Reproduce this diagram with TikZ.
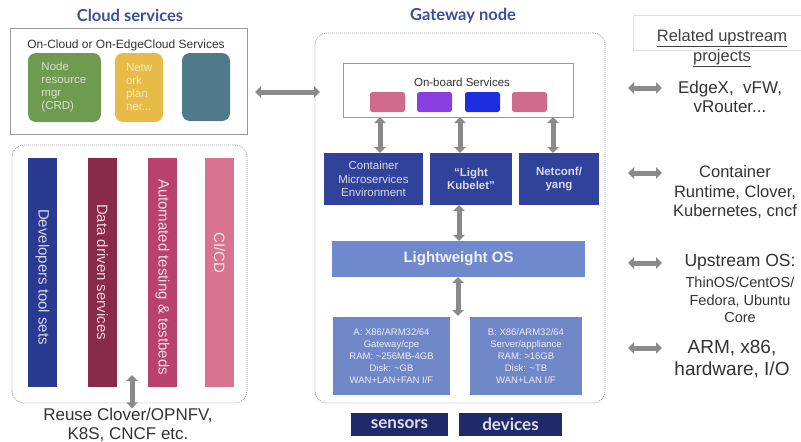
\documentclass[tikz,border=0pt]{standalone}
\usepackage{fontspec}
\setmainfont{Liberation Sans}
\newfontfamily\titlefont{Lato}
\usetikzlibrary{arrows.meta}
\definecolor{titleblue}{HTML}{3C4F9C}
\definecolor{arrgray}{HTML}{8A8A8A}
\definecolor{boxgray}{HTML}{9A9A9A}
\definecolor{dotgray}{HTML}{AAAAAA}
\definecolor{cgreen}{HTML}{6F9B50}
\definecolor{cyellow}{HTML}{E6BB48}
\definecolor{cteal}{HTML}{4F7A8C}
\definecolor{spink}{HTML}{D06A8C}
\definecolor{spurple}{HTML}{8A3EE0}
\definecolor{sblue}{HTML}{1D2EE0}
\definecolor{darkbox}{HTML}{30429A}
\definecolor{losblue}{HTML}{7088CC}
\definecolor{hwblue}{HTML}{7088C8}
\definecolor{navy}{HTML}{1E2A6A}
\definecolor{barblue}{HTML}{2A3A90}
\definecolor{barmaroon}{HTML}{8A2A4A}
\definecolor{barcrimson}{HTML}{B8426C}
\definecolor{barpink}{HTML}{D8748F}
\definecolor{txtgray}{HTML}{333333}
\begin{document}
\begin{tikzpicture}[x=1pt,y=-1pt,
  every node/.style={inner sep=0pt, outer sep=0pt},
  title/.style={font=\titlefont\bfseries\fontsize{16.5}{18}\selectfont, text=titleblue},
  plainbox/.style={draw=boxgray, line width=0.8pt, fill=white},
  dotbox/.style={draw=dotgray, line width=0.9pt, dash pattern=on 1pt off 1pt, rounded corners=12pt},
  svc/.style={rounded corners=8pt, align=left, text=white!80!black, font=\fontsize{11.5}{13}\selectfont},
  minibox/.style={rounded corners=2.5pt, minimum width=35pt, minimum height=20pt},
  darkb/.style={fill=darkbox, minimum height=52pt, align=center, text=white!80!darkbox, font=\fontsize{11.5}{13.5}\selectfont},
  hwbox/.style={fill=hwblue, minimum height=78pt, align=center, text=white!85!hwblue, font=\fontsize{9.5}{12}\selectfont},
  navybox/.style={fill=navy, minimum height=23pt, text=white!85!navy, font=\titlefont\bfseries\fontsize{17}{18}\selectfont},
  bar/.style={minimum width=29pt, minimum height=229pt},
  barlabel/.style={rotate=-90, font=\fontsize{15}{16}\selectfont},
  garrow/.style={draw=arrgray, line width=5pt, {Triangle[width=11.5pt,length=6pt]}-{Triangle[width=11.5pt,length=6pt]}},
  righttxt/.style={align=center, text=txtgray, font=\fontsize{17}{19}\selectfont}
]
\useasboundingbox (0,0) rectangle (801,442);
\fill[white] (0,0) rectangle (801,442);

% ---------- Cloud services ----------
\node[title] (cloudtitle) at (130,15) {Cloud services};
\node[plainbox, minimum width=237pt, minimum height=106pt] (cloud) at (128.5,81) {};
\node[text=txtgray, font=\fontsize{12}{14}\selectfont] (cloudlbl) at (126,45) {On-Cloud or On-EdgeCloud Services};
\node[svc, fill=cgreen, minimum width=73pt, minimum height=69pt, text width=46pt, text=white!70!cgreen] (nrm) at (64.5,87.5) {Node\\resource\\mgr\\(CRD)};
\node[svc, fill=cyellow, minimum width=48pt, minimum height=69pt, text width=26pt, text=white!65!cyellow] (np) at (139,87.5) {Netw\\ork\\plan\\ner...};
\node[svc, fill=cteal, minimum width=48pt, minimum height=68pt] (teal) at (206,87) {};

% ---------- Left dev panel ----------
\node[dotbox, minimum width=235pt, minimum height=258pt] (devpanel) at (129.5,274) {};
\node[bar, fill=barblue] (bar1) at (42.5,272.5) {};
\node[bar, fill=barmaroon] (bar2) at (102.5,272.5) {};
\node[bar, fill=barcrimson] (bar3) at (162.5,272.5) {};
\node[bar, fill=barpink] (bar4) at (219.5,272.5) {};
\node[barlabel, text=white!80!barblue] (l1) at (42.5,277) {Developers tool sets};
\node[barlabel, text=white!80!barmaroon] (l2) at (102.5,272) {Data driven services};
\node[barlabel, text=white!80!barcrimson] (l3) at (162.5,277) {Automated testing \& testbeds};
\node[barlabel, text=white!85!barpink] (l4) at (219.5,253) {CI/CD};
\node[righttxt, text=txtgray] (reuse) at (128,425) {Reuse Clover/OPNFV,\\K8S, CNCF etc.};
\coordinate (reusetop) at (132,375);
\draw[garrow] (reusetop) -- (reuse.north -| reusetop);

% ---------- Gateway node ----------
\node[title] (gwtitle) at (463,16) {Gateway node};
\node[dotbox, minimum width=290pt, minimum height=370pt] (gw) at (460,218) {};
\node[plainbox, minimum width=230pt, minimum height=54pt] (onb) at (458,90) {};
\node[text=txtgray, font=\fontsize{11.5}{13}\selectfont] (onblbl) at (462,82) {On-board Services};
\node[minibox, fill=spink] (s1) at (387.5,102) {};
\node[minibox, fill=spurple] (s2) at (434.5,102) {};
\node[minibox, fill=sblue] (s3) at (482.5,102) {};
\node[minibox, fill=spink] (s4) at (529.5,102) {};

\node[darkb, minimum width=99pt] (cme) at (373.5,179) {Container\\Microservices\\Environment};
\node[darkb, minimum width=82pt, font=\bfseries\fontsize{11.5}{13.5}\selectfont] (kub) at (471,179) {``Light\\Kubelet''};
\node[darkb, minimum width=80pt, font=\bfseries\fontsize{11.5}{13.5}\selectfont] (netconf) at (559,179) {Netconf/\\yang};

\coordinate (ax1) at (380,0);
\coordinate (ax2) at (460,0);
\coordinate (ax3) at (553,0);
\coordinate (ax4) at (459,0);
\draw[garrow] (onb.south -| ax1) -- (cme.north -| ax1);
\draw[garrow] (onb.south -| ax2) -- (kub.north -| ax2);
\draw[garrow] (onb.south -| ax3) -- (netconf.north -| ax3);

\node[fill=losblue, minimum width=253pt, minimum height=36pt, text=white!90!losblue, font=\bfseries\fontsize{15}{17}\selectfont] (los) at (458.5,259) {Lightweight OS};
\draw[garrow] (kub.south -| ax4) -- (los.north -| ax4);

\node[hwbox, minimum width=117pt] (hwa) at (391.5,356) {A: X86/ARM32/64\\Gateway/cpe\\RAM: \textasciitilde256MB-4GB\\Disk: \textasciitilde GB\\WAN+LAN+FAN I/F};
\node[hwbox, minimum width=112pt] (hwb) at (526,356) {B: X86/ARM32/64\\Server/appliance\\RAM: {>}16GB\\Disk: \textasciitilde TB\\WAN+LAN I/F};
\coordinate (hwtop) at (458,316);
\draw[garrow] (los.south -| hwtop) -- (hwtop);

\node[navybox, minimum width=97pt] (sensors) at (399.5,424.5) {sensors};
\node[navybox, minimum width=103pt] (devices) at (510.5,424.5) {devices};

% cloud <-> gateway
\coordinate (cgy) at (0,92);
\draw[garrow, shorten <=8pt, shorten >=-5pt] (cloud.east |- cgy) -- (gw.west |- cgy);

% ---------- Right column ----------
\node[draw=black!12, line width=0.8pt, minimum width=180pt, minimum height=35pt] (relbox) at (723,32.5) {};
\node[righttxt, text=black!75, font=\fontsize{16.5}{20}\selectfont] (reltxt) at (722,48) {\underline{Related upstream}\\\underline{projects}};

\coordinate (ra1) at (628,88);  \coordinate (rb1) at (662,88);
\coordinate (ra2) at (628,173); \coordinate (rb2) at (662,173);
\coordinate (ra3) at (628,263); \coordinate (rb3) at (662,263);
\coordinate (ra4) at (628,348); \coordinate (rb4) at (662,348);
\draw[garrow] (ra1) -- (rb1);
\draw[garrow] (ra2) -- (rb2);
\draw[garrow] (ra3) -- (rb3);
\draw[garrow] (ra4) -- (rb4);

\node[righttxt] (edgex) at (730,96.5) {EdgeX,\ \ vFW,\\vRouter...};
\node[righttxt, font=\fontsize{16.5}{19.5}\selectfont] (cont) at (735,192.5) {Container\\Runtime, Clover,\\Kubernetes, cncf};
\node[righttxt, font=\fontsize{17.5}{19}\selectfont] (upos) at (740,262) {Upstream OS:};
\node[righttxt, font=\fontsize{14.5}{17.5}\selectfont] (upos2) at (740,300) {ThinOS/CentOS/\\Fedora, Ubuntu\\Core};
\node[righttxt, font=\fontsize{19}{22}\selectfont] (arm) at (732,359) {ARM, x86,\\hardware, I/O};
\end{tikzpicture}
\end{document}
